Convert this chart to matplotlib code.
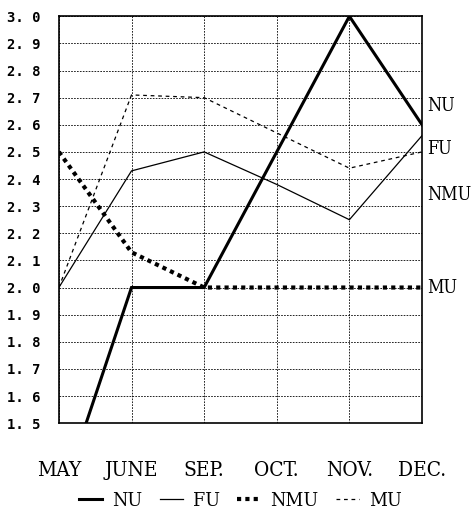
import matplotlib
matplotlib.use("Agg")
import matplotlib.pyplot as plt

# data
months = ["MAY", "JUNE", "SEP.", "OCT.", "NOV.", "DEC."]
nu = [1.2, 2.0, 2.0, 2.5, 3.0, 2.6]
fu = [2.0, 2.43, 2.5, 2.38, 2.25, 2.56]
nmu = [2.5, 2.13, 2.0, 2.0, 2.0, 2.0]
mu = [2.0, 2.71, 2.7, 2.57, 2.44, 2.5]
y_ticks = [1.5 + 0.1 * i for i in range(16)]
side_labels = ["NU", "FU", "NMU", "MU"]
side_label_y = [2.67, 2.51, 2.34, 2.0]

plt.rcParams["font.family"] = ["DejaVu Serif", "DejaVu Sans"]
plt.rcParams["font.stretch"] = "condensed"

fig = plt.figure(figsize=(4.71, 5.25), dpi=100)
ax = fig.add_axes([0.125, 0.194, 0.771, 0.775])
x = list(range(len(months)))

ax.plot(x, nu, color="black", lw=2.2, label="NU", solid_joinstyle="miter")
ax.plot(x, fu, color="black", lw=0.9, label="FU")
ax.plot(x, nmu, color="black", lw=3.0, ls=(0, (1, 1)), label="NMU")
ax.plot(x, mu, color="black", lw=0.9, ls=(0, (3, 3)), label="MU")

ax.set_xlim(0, len(months) - 1)
ax.set_ylim(1.5, 3.0)
ax.set_xticks(x)
ax.set_xticklabels(months, fontsize=15)
ax.set_yticks(y_ticks)
ax.set_yticklabels([f"{v:.1f}".replace(".", ". ") for v in y_ticks],
                   fontsize=10, family=["DejaVu Sans Mono", "DejaVu Sans"],
                   fontweight="bold")
ax.tick_params(axis="x", length=0, pad=27)
ax.tick_params(axis="y", length=0, pad=13)
ax.grid(True, color="black", lw=0.6, ls=(0, (2, 1.5)))
for s in ax.spines.values():
    s.set_linewidth(1.2)
    s.set_color("black")

for lab, yv in zip(side_labels, side_label_y):
    ax.text(1.015, (yv - 1.5) / 1.5, lab, transform=ax.transAxes,
            fontsize=13, va="center", ha="left")

ax.legend(loc="upper center", bbox_to_anchor=(0.5, -0.125), ncol=4,
          frameon=False, fontsize=14, handlelength=1.2, handletextpad=0.5,
          columnspacing=0.9)

fig.savefig("out.png", dpi=100)
